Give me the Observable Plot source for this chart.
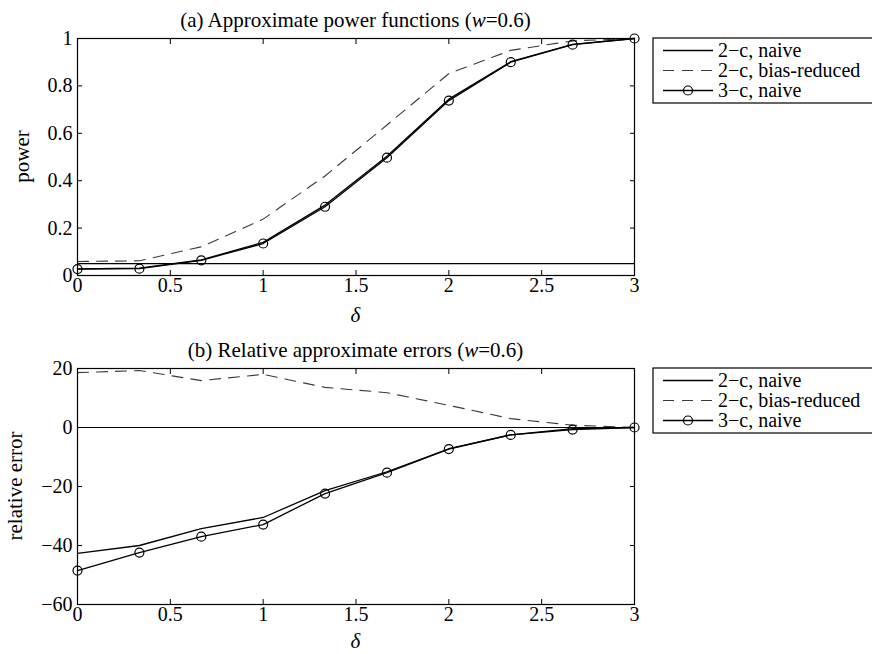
<!DOCTYPE html>
<html><head><meta charset="utf-8">
<script src="https://cdn.jsdelivr.net/npm/d3@7"></script>
<script src="https://cdn.jsdelivr.net/npm/@observablehq/plot@0.6"></script>
<style>
body{margin:0;background:#fff;}
#chart svg{display:block;}
#chart svg text{font-family:"Liberation Serif","Times New Roman",Times,serif;}
</style>
</head><body><div id="chart"></div>
<script>
// ---- data ----
const delta = [0, 1/3, 2/3, 1, 4/3, 5/3, 2, 7/3, 8/3, 3];
const seriesNames = ["2\u2212c, naive", "2\u2212c, bias-reduced", "3\u2212c, naive"];
const power2cNaive = [0.028, 0.031, 0.066, 0.14, 0.297, 0.503, 0.744, 0.902, 0.975, 1.0];
const power2cBR    = [0.059, 0.062, 0.121, 0.238, 0.42, 0.635, 0.852, 0.95, 0.99, 1.0];
const power3cNaive = [0.027, 0.029, 0.064, 0.135, 0.29, 0.497, 0.738, 0.9, 0.974, 1.0];
const rel2cNaive = [-42.7, -40, -34.3, -30.5, -21.4, -15, -7.2, -2.5, -0.4, 0];
const rel2cBR    = [18.6, 19.3, 15.9, 18, 13.6, 11.8, 7.5, 3.0, 0.8, 0];
const rel3cNaive = [-48.5, -42.4, -37, -32.9, -22.4, -15.3, -7.3, -2.5, -0.7, 0];
const xTicks = [0, 0.5, 1, 1.5, 2, 2.5, 3];
const powerTicks = [0, 0.2, 0.4, 0.6, 0.8, 1];
const relTicks = [-60, -40, -20, 0, 20];
const powerRef = [0.05];
const relRef = [0];

const FONT = '"Liberation Serif", "Times New Roman", Times, serif';
const fmt = d => String(d).replace("-", "\u2212");
const rows = ys => delta.map((x, i) => ({x, y: ys[i]}));

function panel({vals, yDomain, yTicks, ref, titleA, titleB, ylabel, ylabelX, height, marginBottom, deltaOffset}) {
  const [a, b, c] = vals.map(rows);
  const svg = Plot.plot({
    width: 872, height,
    marginTop: 38, marginBottom, marginLeft: 77, marginRight: 238,
    style: {fontFamily: FONT, fontSize: "20px", background: "white", color: "black", overflow: "visible"},
    x: {domain: [0, 3]},
    y: {domain: yDomain},
    marks: [
      Plot.ruleY(ref, {stroke: "black", strokeWidth: 1.1}),
      Plot.line(b, {x: "x", y: "y", stroke: "#3a3a3a", strokeWidth: 1.1, strokeDasharray: "11,8"}),
      Plot.line(a, {x: "x", y: "y", stroke: "black", strokeWidth: 1.3}),
      Plot.line(c, {x: "x", y: "y", stroke: "black", strokeWidth: 1.3}),
      Plot.dot(c, {x: "x", y: "y", r: 4.5, stroke: "black", strokeWidth: 1.2, fill: "none"}),
      Plot.frame({stroke: "black", strokeWidth: 1.2}),
      Plot.axisX({anchor: "bottom", ticks: xTicks, tickSize: -5, tickFormat: () => "", label: null}),
      Plot.axisX({anchor: "top", ticks: xTicks, tickSize: -5, tickFormat: () => "", label: null}),
      Plot.axisY({anchor: "left", ticks: yTicks, tickSize: -5, tickFormat: () => "", label: null}),
      Plot.axisY({anchor: "right", ticks: yTicks, tickSize: -5, tickFormat: () => "", label: null}),
      Plot.axisX({anchor: "bottom", ticks: xTicks, tickSize: 0, tickPadding: 2, tickFormat: fmt, label: null}),
      Plot.axisY({anchor: "left", ticks: yTicks, tickSize: 0, tickPadding: 5, tickFormat: fmt, label: null})
    ]
  });
  const s = d3.select(svg);
  const cx = (77 + 634) / 2;
  const t = s.append("text").attr("x", cx).attr("y", 27).attr("text-anchor", "middle")
    .attr("font-family", FONT).attr("font-size", 21).attr("fill", "black");
  t.append("tspan").text(titleA);
  t.append("tspan").attr("font-style", "italic").text("w");
  t.append("tspan").text(titleB);
  s.append("text").attr("x", cx).attr("y", height - marginBottom + deltaOffset).attr("text-anchor", "middle")
    .attr("font-family", FONT).attr("font-size", 21).attr("font-style", "italic").text("\u03b4");
  const midY = (38 + height - marginBottom) / 2;
  s.append("text").attr("transform", `translate(${ylabelX},${midY}) rotate(-90)`)
    .attr("text-anchor", "middle").attr("dy", "0.32em")
    .attr("font-family", FONT).attr("font-size", 21).text(ylabel);
  // legend
  const g = s.append("g").attr("font-family", FONT).attr("font-size", 20).attr("text-anchor", "start");
  g.append("rect").attr("x", 653).attr("y", 38).attr("width", 240).attr("height", 65)
    .attr("fill", "white").attr("stroke", "black").attr("stroke-width", 1.2);
  const rowY = [50.5, 70.5, 90.5];
  const styles = [
    {stroke: "black", dash: null, w: 1.3},
    {stroke: "#3a3a3a", dash: "11,8", w: 1.1},
    {stroke: "black", dash: null, w: 1.3, dot: true}
  ];
  seriesNames.forEach((name, i) => {
    const y = rowY[i];
    const st = styles[i];
    g.append("line").attr("x1", 663).attr("x2", 713).attr("y1", y).attr("y2", y)
      .attr("stroke", st.stroke).attr("stroke-width", st.w).attr("stroke-dasharray", st.dash);
    if (st.dot) g.append("circle").attr("cx", 688).attr("cy", y).attr("r", 4.5)
      .attr("fill", "none").attr("stroke", "black").attr("stroke-width", 1.2);
    g.append("text").attr("x", 718).attr("y", y).attr("dy", "0.32em").attr("text-anchor", "start").text(name);
  });
  return svg;
}

const chart = document.getElementById("chart");
chart.appendChild(panel({
  vals: [power2cNaive, power2cBR, power3cNaive], yDomain: [0, 1], yTicks: powerTicks, ref: powerRef,
  titleA: "(a) Approximate power functions (", titleB: "=0.6)", ylabel: "power", ylabelX: 22,
  height: 330, marginBottom: 55, deltaOffset: 47
}));
chart.appendChild(panel({
  vals: [rel2cNaive, rel2cBR, rel3cNaive], yDomain: [-60, 20], yTicks: relTicks, ref: relRef,
  titleA: "(b) Relative approximate errors (", titleB: "=0.6)", ylabel: "relative error", ylabelX: 15,
  height: 324, marginBottom: 50, deltaOffset: 44
}));
</script></body></html>
